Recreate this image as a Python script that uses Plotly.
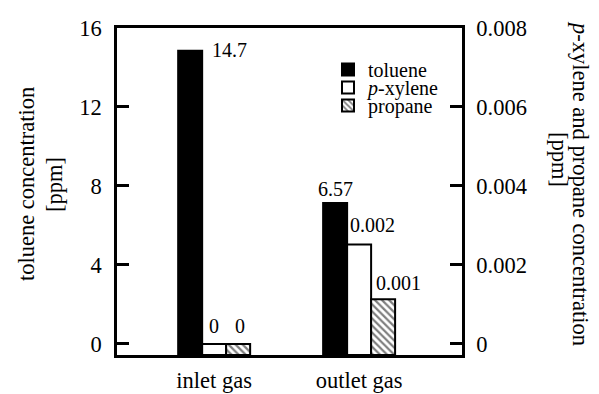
import plotly.graph_objects as go

categories = ["inlet gas", "outlet gas"]
toluene = [14.85, 7.14]
p_xylene = [0.0, 0.00252]
propane = [0.0, 0.00113]
toluene_labels = ["14.7", "6.57"]
p_xylene_labels = ["0", "0.002"]
propane_labels = ["0", "0.001"]
left_ticks = [0, 4, 8, 12, 16]
right_ticks = [0, 0.002, 0.004, 0.006, 0.008]
right_ticktext = ["0", "0.002", "0.004", "0.006", "0.008"]

FONT = "Liberation Serif, Times New Roman, serif"
Y1_MIN, Y1_MAX = -0.56, 16
Y2_MIN, Y2_MAX = -0.00028, 0.008
BAR_W = 0.1655
OFFSETS = [-0.248, -0.0825, 0.083]

# page body margin of the browser (8px) is compensated here
PAGE_OFF = 8
W, H = 599 - PAGE_OFF, 394 - PAGE_OFF
PX_L, PX_R, PX_T, PX_B = 117, 462, 28, 355   # plot box in window pixels
L, T = PX_L - PAGE_OFF, PX_T - PAGE_OFF
PW, PH = PX_R - PX_L, PX_B - PX_T
R, B = W - L - PW, H - T - PH


def px_to_paper(px, py):
    return (px - PX_L) / PW, 1 - (py - PX_T) / PH


fig = go.Figure()

fig.add_trace(go.Bar(
    x=categories, y=[v - Y1_MIN for v in toluene], base=Y1_MIN,
    name="toluene", yaxis="y", width=BAR_W, offset=OFFSETS[0],
    marker=dict(color="black", line=dict(color="black", width=2)),
    legend="legend", showlegend=True))
fig.add_trace(go.Bar(
    x=categories, y=[v - Y2_MIN for v in p_xylene], base=Y2_MIN,
    name="<i>p</i>-xylene", yaxis="y2", width=BAR_W, offset=OFFSETS[1],
    marker=dict(color="white", line=dict(color="black", width=2)),
    legend="legend2", showlegend=True))
fig.add_trace(go.Bar(
    x=categories, y=[v - Y2_MIN for v in propane], base=Y2_MIN,
    name="propane", yaxis="y2", width=BAR_W, offset=OFFSETS[2],
    marker=dict(color="white", line=dict(color="black", width=2),
                pattern=dict(shape="\\", fgcolor="black", bgcolor="white",
                             size=5, solidity=0.45)),
    legend="legend3", showlegend=True))

# value labels: (values, labels, yref, bar index, [(xanchor, dx, dy), ...])
label_sets = [
    (toluene, toluene_labels, "y", 0, [("left", 20, 1), ("center", 0, 14)]),
    (p_xylene, p_xylene_labels, "y2", 1, [("center", 0, 18), ("center", 13.5, 19)]),
    (propane, propane_labels, "y2", 2, [("center", 1.5, 18), ("center", 15, 16)]),
]
annotations = []
for vals, labs, yref, k, specs in label_sets:
    for i, (v, lab, (xa, dx, dy)) in enumerate(zip(vals, labs, specs)):
        annotations.append(dict(
            x=i + OFFSETS[k] + BAR_W / 2, y=v, xref="x", yref=yref,
            text=lab, showarrow=False, xanchor=xa, yanchor="middle",
            xshift=dx, yshift=dy, font=dict(family=FONT, size=20, color="black")))

title_specs = [
    ("toluene concentration", -90, 26, 184),
    ("[ppm]", -90, 55, 185),
    ("<i>p</i>-xylene and propane concentration", 90, 581, 183),
    ("[ppm]", 90, 560, 159),
]
for text, ang, px, py in title_specs:
    xp, yp = px_to_paper(px, py)
    annotations.append(dict(
        x=xp, y=yp, xref="paper", yref="paper", text=text, textangle=ang,
        showarrow=False, xanchor="center", yanchor="middle",
        font=dict(family=FONT, size=22.5, color="black")))

legend_common = dict(xref="paper", yref="paper", xanchor="left",
                     yanchor="middle", bgcolor="rgba(0,0,0,0)",
                     font=dict(family=FONT, size=20, color="black"),
                     itemsizing="constant")
legend_pos = [px_to_paper(328, 69.5), px_to_paper(328, 87.5), px_to_paper(328, 105.5)]
axis_font = dict(family=FONT, size=22.5, color="black")

fig.update_layout(
    width=W, height=H,
    margin=dict(l=L, r=R, t=T, b=B, autoexpand=False),
    paper_bgcolor="white", plot_bgcolor="white",
    font=dict(family=FONT, color="black"),
    barmode="overlay",
    annotations=annotations,
    legend=dict(x=legend_pos[0][0], y=legend_pos[0][1], **legend_common),
    legend2=dict(x=legend_pos[1][0], y=legend_pos[1][1], **legend_common),
    legend3=dict(x=legend_pos[2][0], y=legend_pos[2][1], **legend_common),
    xaxis=dict(type="category", range=[-0.67, 1.71], showline=True,
               linecolor="black", linewidth=2.5, mirror=True, ticks="",
               showgrid=False, tickfont=axis_font, ticklabelstandoff=3,
               tickangle=0, automargin=False),
    yaxis=dict(range=[Y1_MIN, Y1_MAX], tickvals=left_ticks, ticks="inside",
               ticklen=12, tickwidth=3, tickcolor="black", showline=True,
               linecolor="black", linewidth=2.5, showgrid=False, zeroline=False,
               tickfont=axis_font, ticklabelstandoff=8, automargin=False),
    yaxis2=dict(range=[Y2_MIN, Y2_MAX], tickvals=right_ticks,
                ticktext=right_ticktext, overlaying="y", side="right",
                ticks="inside", ticklen=12, tickwidth=3, tickcolor="black",
                showline=True, linecolor="black", linewidth=2.5,
                showgrid=False, zeroline=False, tickfont=axis_font,
                ticklabelstandoff=7, automargin=False),
)

fig.write_html("out.html")
